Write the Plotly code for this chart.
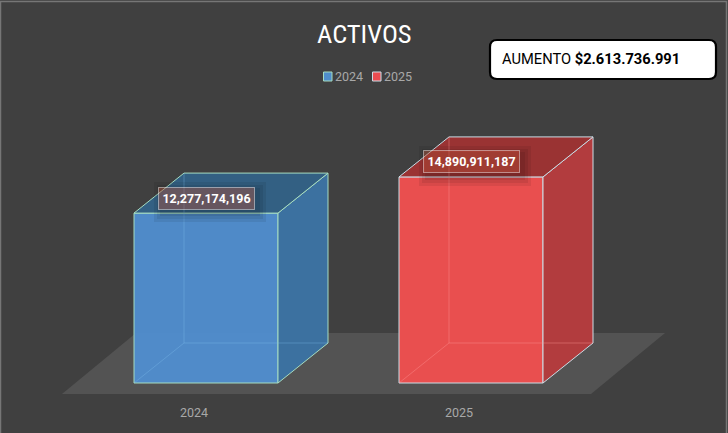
import plotly.graph_objects as go

years = ["2024", "2025"]
values = [12277174196, 14890911187]
note_label = "AUMENTO"
note_value = "$2.613.736.991"
title = "ACTIVOS"

W, H = 728, 433
L, R, T, B = 62, 63, 100, 39
PXX = 265.0          # px per category
PXY = 13.84e-9       # px per unit value
X0PX = 194.0         # px of category 0
Y0PX = 383.0         # px of value 0
BAR_W = 144 / PXX
BAR_SHIFT = 12 / PXX
DX = 50 / PXX        # depth in x units
DY = 40 / PXY        # depth in value units

xr = [(L - X0PX) / PXX, (W - R - X0PX) / PXX]
yr = [(Y0PX - (H - B)) / PXY, (Y0PX - T) / PXY]

def px(x): return (x - L) / (W - L - R)
def py(y): return (H - B - y) / (H - B - T)

styles = [
    dict(front="rgba(80,142,208,0.95)", side="rgba(60,113,160,1)", top="rgba(51,96,131,1)",
         edge="#a6dcc0", back="rgba(125,190,235,0.35)", swatch="#4f8ecb"),
    dict(front="rgba(238,79,80,0.97)", side="rgba(178,60,62,1)", top="rgba(154,51,51,1)",
         edge="#cbdde6", back="rgba(255,150,150,0.4)", swatch="#ea4c50"),
]

fig = go.Figure()

# front faces
fig.add_trace(go.Bar(
    x=[i + BAR_SHIFT for i in range(len(years))], y=values, width=BAR_W, name="front",
    marker=dict(color=[s["front"] for s in styles],
                line=dict(color=[s["edge"] for s in styles], width=1)),
    showlegend=False, hoverinfo="skip"))

# side, top and back edges derived from the values
for i, (v, s) in enumerate(zip(values, styles)):
    x1 = i + BAR_SHIFT - BAR_W / 2
    x2 = i + BAR_SHIFT + BAR_W / 2
    face = dict(mode="lines", fill="toself", showlegend=False, hoverinfo="skip",
                line=dict(color=s["edge"], width=1))
    fig.add_trace(go.Scatter(x=[x2, x2 + DX, x2 + DX, x2, x2], y=[0, DY, v + DY, v, 0],
                             fillcolor=s["side"], **face))
    fig.add_trace(go.Scatter(x=[x1, x1 + DX, x2 + DX, x2, x1], y=[v, v + DY, v + DY, v, v],
                             fillcolor=s["top"], **face))
    fig.add_trace(go.Scatter(x=[x1, x1 + DX, x1 + DX, None, x1 + DX, x2 + DX],
                             y=[0, DY, v + DY, None, DY, DY], mode="lines",
                             line=dict(color=s["back"], width=1),
                             showlegend=False, hoverinfo="skip"))

shapes = []
# outer frame
shapes.append(dict(type="path", xref="paper", yref="paper", line=dict(color="#767676", width=1.5),
                   path=f"M{px(0.5)},{py(433)} L{px(0.5)},{py(1.5)} L{px(726.5)},{py(1.5)} L{px(726.5)},{py(433)}"))
# floor
fl, fr = xr[0], xr[0] + (591 - 62) / PXX
fd = 74 / PXX
shapes.append(dict(type="path", layer="below", xref="x", yref="y", line=dict(width=0),
                   fillcolor="#535353",
                   path=f"M{fl},{yr[0]} L{fr},{yr[0]} L{fr+fd},{yr[0]+61/PXY} L{fl+fd},{yr[0]+61/PXY} Z"))

annotations = []
# data labels with soft shadow
for i, v in enumerate(values):
    lx = i + BAR_SHIFT
    ly = v + 15 / PXY
    for g in (8, 5, 2):
        shapes.append(dict(type="rect", xref="x", yref="y", line=dict(width=0),
                           fillcolor="rgba(0,0,0,0.07)",
                           x0=lx - (48 - 4 + g) / PXX, x1=lx + (48 + 4 + g) / PXX,
                           y0=ly - (12 + 4 + g) / PXY, y1=ly + (12 - 4 + g) / PXY))
    annotations.append(dict(x=lx, y=ly, xref="x", yref="y", showarrow=False,
                            text=f"<b>{v:,}</b>", width=89, height=15,
                            font=dict(family="Roboto", size=12.5, color="#ffffff"),
                            bgcolor="rgba(248,110,77,0.3)",
                            bordercolor="rgba(255,255,255,0.45)", borderwidth=1, borderpad=3))

# legend
for name, s, sx, tx in zip(years, styles, (323, 372), (335, 384)):
    shapes.append(dict(type="rect", xref="paper", yref="paper",
                       x0=px(sx + .5), x1=px(sx + 9), y0=py(81), y1=py(72),
                       fillcolor=s["swatch"], line=dict(color=s["edge"], width=1)))
    annotations.append(dict(x=px(tx), y=py(76.5), xref="paper", yref="paper", xanchor="left", yanchor="middle",
                            text=name, showarrow=False, xshift=-2,
                            font=dict(family="Roboto", size=12.5, color="#a8a8a8")))

# title
annotations.append(dict(x=px(364.5), y=py(33), xref="paper", yref="paper", text=title, showarrow=False,
                        xanchor="center", yanchor="middle",
                        font=dict(family="Roboto Condensed, Liberation Sans Narrow, Roboto", size=26.5, color="#ffffff")))

# note box
bx0, bx1, by0, by1, r = 490, 716, 40, 79, 7
shapes.append(dict(type="path", xref="paper", yref="paper", fillcolor="#ffffff",
                   line=dict(color="#000000", width=2.2),
                   path=(f"M{px(bx0+r)},{py(by0)} L{px(bx1-r)},{py(by0)} Q{px(bx1)},{py(by0)} {px(bx1)},{py(by0+r)} "
                         f"L{px(bx1)},{py(by1-r)} Q{px(bx1)},{py(by1)} {px(bx1-r)},{py(by1)} "
                         f"L{px(bx0+r)},{py(by1)} Q{px(bx0)},{py(by1)} {px(bx0)},{py(by1-r)} "
                         f"L{px(bx0)},{py(by0+r)} Q{px(bx0)},{py(by0)} {px(bx0+r)},{py(by0)} Z")))
annotations.append(dict(x=px(502), y=py(59), xref="paper", yref="paper", xanchor="left", yanchor="middle",
                        showarrow=False, text=f"{note_label} <b>{note_value}</b>", xshift=-2,
                        font=dict(family="Roboto", size=14.7, color="#000000")))

fig.update_layout(
    width=W, height=H, autosize=False,
    margin=dict(l=L, r=R, t=T, b=B),
    paper_bgcolor="#404040", plot_bgcolor="rgba(0,0,0,0)",
    showlegend=False, shapes=shapes, annotations=annotations,
    xaxis=dict(range=xr, tickmode="array", tickvals=list(range(len(years))), ticktext=years,
               showgrid=False, zeroline=False, showline=False, ticks="", ticklabelstandoff=9,
               tickfont=dict(family="Roboto", size=12.5, color="#a8a8a8")),
    yaxis=dict(range=yr, visible=False),
)
fig.write_html("out.html", config={"displayModeBar": False},
               post_script="document.body.style.margin='0';document.documentElement.style.overflow='hidden';")
